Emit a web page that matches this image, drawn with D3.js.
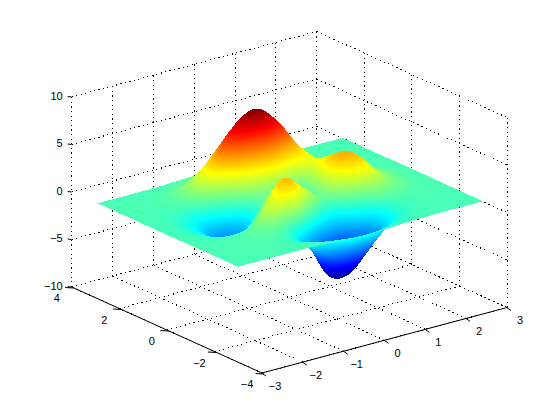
<!DOCTYPE html>
<html><head><meta charset="utf-8">
<style>html,body{margin:0;background:#fff}svg,canvas{display:block;position:absolute;left:0;top:0}text{font-family:"Liberation Sans",Arial,sans-serif;font-size:11px;fill:#000}</style>
<script src="https://cdn.jsdelivr.net/npm/d3@7"></script>
</head><body><script>
const xTicks=[-3,-2,-1,0,1,2,3];
const yTicks=[-4,-2,0,2,4];
const zTicks=[-10,-5,0,5,10];
const xSamples=[-3,-2.5,-2,-1.55,-1.03,-.45,.05,.55,1.03,1.5,2,2.5,3];
const ySamples=[-3,-2.5,-2,-1.5,-1,-0.5,0,0.5,1,1.5,2,2.5,3];
// surface heights, one list per x sample, running along ySamples
const zAtXm30=[0,0,0,0,-.01,-.03,-.04,-.03,-.01,0,0,0,0];
const zAtXm25=[0,0,.01,.01,-.06,-.20,-.30,-.25,-.11,-.02,.01,0,0];
const zAtXm20=[0,.02,.05,.08,-.13,-.80,-1.33,-1.12,-.48,-.01,.08,.03,.01];
const zAtXm15=[0,0,.05,.33,.30,-1.21,-2.77,-2.49,-.86,.48,.55,.19,.03];
const zAtXm10=[-.03,-.23,-.59,.15,1.86,.80,-1.65,-2.0,.23,2.9,2.4,.69,.11];
const zAtXm05=[-.14,-.91,-2.64,-2.18,2.22,3.55,1.48,.39,2.79,6.6,5.0,1.47,.23];
const zAtX00=[-.24,-1.57,-4.6,-5.95,-.72,2.0,.98,.46,3.69,7.99,5.86,1.89,.30];
const zAtX05=[-.22,-1.41,-4.6,-6.15,-2.22,.39,.37,.38,2.93,6.25,4.57,1.47,.23];
const zAtX10=[-.11,-.69,-2.4,-3.0,-.27,2.40,3.30,2.60,2.43,3.25,2.21,.70,.11];
const zAtX15=[-.03,-.18,-.53,-.44,.88,2.80,3.60,2.80,1.58,1.18,.68,.20,.03];
const zAtX20=[0,-.03,-.06,.04,.50,1.12,1.41,1.09,.58,.29,.13,.04,.01];
const zAtX25=[0,0,0,.03,.11,.24,.30,.23,.11,.05,.02,0,0];
const zAtX30=[0,0,0,0,.01,.03,.03,.03,.01,0,0,0,0];
const zColumns=[zAtXm30,zAtXm25,zAtXm20,zAtXm15,zAtXm10,zAtXm05,zAtX00,zAtX05,zAtX10,zAtX15,zAtX20,zAtX25,zAtX30];
const colorLimits=[-6.55,8.1];
const jetStops=["#00008f","#0000ff","#00ffff","#ffff00","#ff0000","#800000"];
const jetPositions=[0,1/8,3/8,5/8,7/8,1];

const W=560,H=420;
const frontBottom=[262,373], xEdge=[245,-65.5], yEdge=[-190.3,-86], zHeight=190;
const ux=d3.scaleLinear().domain([-3,3]).range([0,1]);
const uy=d3.scaleLinear().domain([-4,4]).range([0,1]);
const uz=d3.scaleLinear().domain([-10,10]).range([0,zHeight]);
const sampleIndexX=d3.scaleLinear().domain(xSamples).range(d3.range(13));
const sampleIndexY=d3.scaleLinear().domain(ySamples).range(d3.range(13));
const px=(x,y)=>frontBottom[0]+ux(x)*xEdge[0]+uy(y)*yEdge[0];
const py=(x,y,z)=>frontBottom[1]+ux(x)*xEdge[1]+uy(y)*yEdge[1]-uz(z);
const toColor=d3.scaleLinear().domain([0,1]).range(colorLimits);
const jet=d3.scaleLinear().domain(jetPositions.map(toColor)).range(jetStops).clamp(true);

const svg=d3.select("body").append("svg").attr("width",W).attr("height",H);
const line=(g,a,b,dotted)=>g.append("line").attr("x1",a[0]).attr("y1",a[1]).attr("x2",b[0]).attr("y2",b[1])
  .attr("stroke","#000").attr("stroke-width",1).attr("stroke-dasharray",dotted?"1.2 3.4":null);
const P=(x,y,z)=>[px(x,y),py(x,y,z)];
const grid=svg.append("g").attr("shape-rendering","crispEdges");
xTicks.forEach(x=>line(grid,P(x,-4,-10),P(x,4,-10),true));
yTicks.forEach(y=>line(grid,P(-3,y,-10),P(3,y,-10),true));
xTicks.forEach(x=>line(grid,P(x,4,-10),P(x,4,10),true));
yTicks.forEach(y=>line(grid,P(3,y,-10),P(3,y,10),true));
zTicks.forEach(z=>{line(grid,P(-3,4,z),P(3,4,z),true);line(grid,P(3,4,z),P(3,-4,z),true);});

const axes=svg.append("g");
line(axes,P(-3,-4,-10),P(3,-4,-10));
line(axes,P(-3,-4,-10),P(-3,4,-10));
line(grid,P(-3,4,-10),P(-3,4,10),true);
const fmt=v=>(v<0?"\u2212":"")+Math.abs(v);
const label=(v,x,y,anchor)=>svg.append("text").attr("x",x).attr("y",y).attr("text-anchor",anchor).attr("dy","0.36em").text(fmt(v));
xTicks.forEach(x=>{const b=P(x,-4,-10);line(axes,[b[0]-1,b[1]-0.5],[b[0]+4,b[1]+3]);label(x,b[0]+13,b[1]+13,"middle");});
yTicks.forEach(y=>{const b=P(-3,y,-10);line(axes,[b[0]-6.5,b[1]+0.5],[b[0]+2,b[1]+1]);label(y,b[0]-15,b[1]+11.5,"middle");});
zTicks.forEach(z=>{const b=P(-3,4,z);line(axes,b,[b[0]-4,b[1]-0.5]);label(z,b[0]-9,b[1]-1,"end");});

// interpolated surface shading, painted far to near
const cr=(a,b,c,d,t)=>b+0.5*t*(c-a+t*(2*a-5*b+4*c-d+t*(3*(b-c)+d-a)));
const at=(i,j)=>zColumns[Math.max(0,Math.min(12,i))][Math.max(0,Math.min(12,j))];
function height(x,y){
  const fi=sampleIndexX(x),fj=sampleIndexY(y);
  const i=Math.max(0,Math.min(11,Math.floor(fi))),j=Math.max(0,Math.min(11,Math.floor(fj))),s=fi-i,t=fj-j;
  const col=k=>cr(at(k,j-1),at(k,j),at(k,j+1),at(k,j+2),t);
  return cr(col(i-1),col(i),col(i+1),col(i+2),s);
}
const canvas=d3.select("body").append("canvas").attr("width",W).attr("height",H).node();
const ctx=canvas.getContext("2d");
const img=ctx.createImageData(W,H);
const lut=d3.range(1024).map(k=>d3.rgb(jet(colorLimits[0]+(colorLimits[1]-colorLimits[0])*k/1023)));
function tri(a,b,c){
  const x0=Math.floor(Math.min(a[0],b[0],c[0])),x1=Math.ceil(Math.max(a[0],b[0],c[0]));
  const y0=Math.floor(Math.min(a[1],b[1],c[1])),y1=Math.ceil(Math.max(a[1],b[1],c[1]));
  const d=(b[1]-c[1])*(a[0]-c[0])+(c[0]-b[0])*(a[1]-c[1]);
  if(Math.abs(d)<1e-9)return;
  for(let y=y0;y<=y1;y++)for(let x=x0;x<=x1;x++){
    const l1=((b[1]-c[1])*(x+.5-c[0])+(c[0]-b[0])*(y+.5-c[1]))/d;
    const l2=((c[1]-a[1])*(x+.5-c[0])+(a[0]-c[0])*(y+.5-c[1]))/d;
    const l3=1-l1-l2;
    if(l1<-1e-6||l2<-1e-6||l3<-1e-6)continue;
    const z=l1*a[2]+l2*b[2]+l3*c[2];
    const k=Math.max(0,Math.min(1023,Math.round((z-colorLimits[0])/(colorLimits[1]-colorLimits[0])*1023)));
    const o=(y*W+x)*4,col=lut[k];
    img.data[o]=col.r;img.data[o+1]=col.g;img.data[o+2]=col.b;img.data[o+3]=255;
  }
}
const n=144, surfaceYExtent=2.95, surfaceNudgeX=1;
const fine=d3.range(n+1).map(k=>-3+6*k/n);
const V=(x,y)=>{const z=height(x,y),yDrawn=y*surfaceYExtent/3;return [px(x,yDrawn)+surfaceNudgeX,py(x,yDrawn,z),z];};
for(let i=n-1;i>=0;i--)for(let j=n-1;j>=0;j--){
  const A=V(fine[i],fine[j]),B=V(fine[i+1],fine[j]),C=V(fine[i+1],fine[j+1]),D=V(fine[i],fine[j+1]);
  tri(C,D,A);tri(C,A,B);
}
ctx.putImageData(img,0,0);
</script></body></html>
